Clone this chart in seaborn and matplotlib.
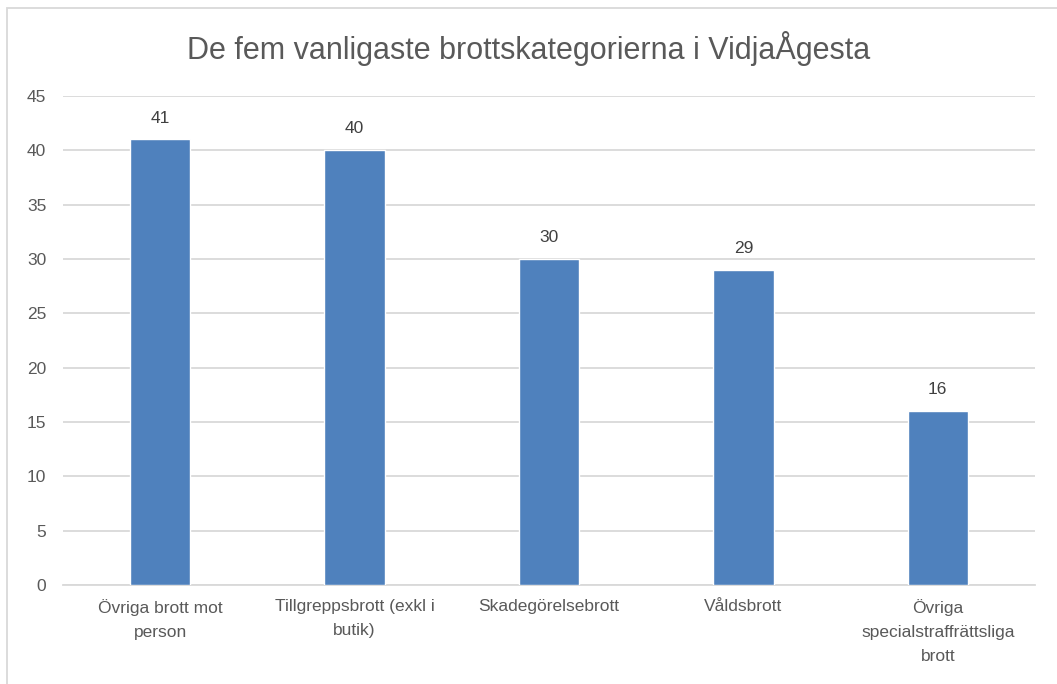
import matplotlib
matplotlib.use("Agg")
import matplotlib.pyplot as plt
import seaborn as sns
import pandas as pd
from matplotlib.patches import Rectangle

# Chart data
categories = [
    "Övriga brott mot\nperson",
    "Tillgreppsbrott (exkl i\nbutik)",
    "Skadegörelsebrott",
    "Våldsbrott",
    "Övriga\nspecialstraffrättsliga\nbrott",
]
counts = [41, 40, 30, 29, 16]
y_ticks = [0, 5, 10, 15, 20, 25, 30, 35, 40, 45]
title = "De fem vanligaste brottskategorierna i VidjaÅgesta"

sns.set_style("white")
plt.rcParams["font.family"] = ["Liberation Sans", "DejaVu Sans"]

df = pd.DataFrame({"Kategori": categories, "Antal": counts})

fig = plt.figure(figsize=(10.57, 6.84), dpi=100)
ax = fig.add_axes([63 / 1057, 1 - 585 / 684, (1035 - 63) / 1057, (585 - 96) / 684])

sns.barplot(data=df, x="Kategori", y="Antal", color="#4F81BD", width=0.31,
            saturation=1, ax=ax, zorder=3)

ax.set_ylim(0, 45)
ax.set_yticks(y_ticks)
ax.yaxis.grid(True, color="#D9D9D9", linewidth=1.3, zorder=0)
ax.set_axisbelow(True)
for side in ["top", "right", "left"]:
    ax.spines[side].set_visible(False)
ax.spines["bottom"].set_color("#D9D9D9")
ax.spines["bottom"].set_linewidth(1.3)
ax.tick_params(axis="both", length=0, labelsize=12.5, colors="#595959", pad=10)
ax.tick_params(axis="y", pad=12)
for lbl in ax.get_xticklabels():
    lbl.set_linespacing(1.75)
ax.set_xlabel("")
ax.set_ylabel("")

# Data labels
for i, v in enumerate(counts):
    ax.annotate(str(v), (i, v), xytext=(0, 10), textcoords="offset points",
                ha="center", va="bottom", fontsize=12.5, color="#404040")

fig.suptitle(title, x=0.5, y=1 - 48 / 684, va="center", fontsize=22, color="#595959")

# Chart border
fig.patches.append(Rectangle((7 / 1057, -0.1), 1.2, 1.1 - 8 / 684, transform=fig.transFigure,
                             fill=False, edgecolor="#D9D9D9", linewidth=1.3))

fig.savefig("out.png", dpi=100)
